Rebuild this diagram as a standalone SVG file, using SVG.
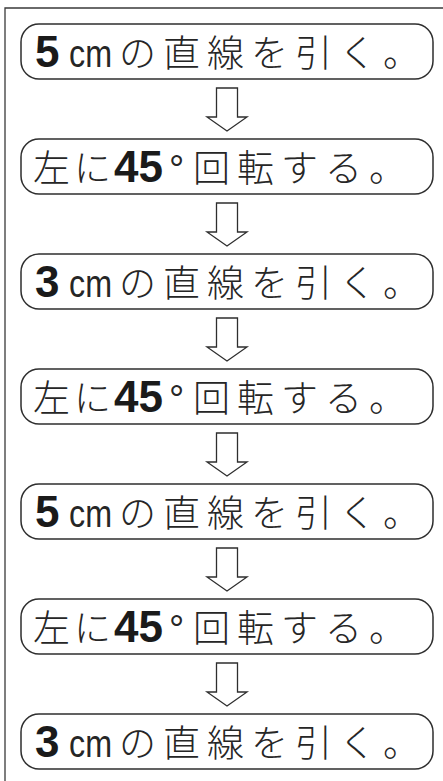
<svg xmlns="http://www.w3.org/2000/svg" width="443" height="781" viewBox="0 0 443 781">
<style>
.frame{fill:none;stroke:#3a3a3a;stroke-width:1.3}
.box{fill:#fff;stroke:#2e2e2e;stroke-width:1.5}
.arr{fill:#fff;stroke:#2e2e2e;stroke-width:1.3;stroke-linejoin:miter}
.j{font-family:"Noto Sans CJK JP","Noto Sans CJK SC",sans-serif;font-size:37px;font-weight:300;letter-spacing:7px;fill:#262626}
.j2{letter-spacing:4px}
.n{font-family:"Liberation Sans",Arial,sans-serif;font-weight:bold;font-size:44px;fill:#1a1a1a}
.l{font-family:"Liberation Sans",Arial,sans-serif;font-size:38px;fill:#262626}
</style>
<rect width="443" height="781" fill="#fff"/>
<path class="frame" d="M5,781 V8 H443"/>
<g id="connectors">
<path class="arr" d="M216.5,88 H237.5 V117 H247 L227,131 L207,117 H216.5 Z"/>
<path class="arr" d="M216.5,203 H237.5 V232 H247 L227,246 L207,232 H216.5 Z"/>
<path class="arr" d="M216.5,318 H237.5 V347 H247 L227,361 L207,347 H216.5 Z"/>
<path class="arr" d="M216.5,433 H237.5 V462 H247 L227,476 L207,462 H216.5 Z"/>
<path class="arr" d="M216.5,548 H237.5 V577 H247 L227,591 L207,577 H216.5 Z"/>
<path class="arr" d="M216.5,663 H237.5 V692 H247 L227,706 L207,692 H216.5 Z"/>
</g>
<g id="n1" transform="translate(0,24)">
<rect class="box" x="21" y="0" width="412" height="55" rx="18"/>
<text class="n" x="35" y="43">5</text>
<text class="l" x="69" y="43" textLength="43" lengthAdjust="spacingAndGlyphs">cm</text>
<text class="j" x="119" y="43">の直線を引く。</text>
</g>
<g id="n2" transform="translate(0,139)">
<rect class="box" x="21" y="0" width="412" height="55" rx="18"/>
<text class="j j2" x="33" y="43">左に</text>
<text class="n" x="114" y="43">45</text>
<text class="l" x="169" y="43">°</text>
<text class="j" x="193" y="43">回転する。</text>
</g>
<g id="n3" transform="translate(0,254)">
<rect class="box" x="21" y="0" width="412" height="55" rx="18"/>
<text class="n" x="35" y="43">3</text>
<text class="l" x="69" y="43" textLength="43" lengthAdjust="spacingAndGlyphs">cm</text>
<text class="j" x="119" y="43">の直線を引く。</text>
</g>
<g id="n4" transform="translate(0,369)">
<rect class="box" x="21" y="0" width="412" height="55" rx="18"/>
<text class="j j2" x="33" y="43">左に</text>
<text class="n" x="114" y="43">45</text>
<text class="l" x="169" y="43">°</text>
<text class="j" x="193" y="43">回転する。</text>
</g>
<g id="n5" transform="translate(0,484)">
<rect class="box" x="21" y="0" width="412" height="55" rx="18"/>
<text class="n" x="35" y="43">5</text>
<text class="l" x="69" y="43" textLength="43" lengthAdjust="spacingAndGlyphs">cm</text>
<text class="j" x="119" y="43">の直線を引く。</text>
</g>
<g id="n6" transform="translate(0,599)">
<rect class="box" x="21" y="0" width="412" height="55" rx="18"/>
<text class="j j2" x="33" y="43">左に</text>
<text class="n" x="114" y="43">45</text>
<text class="l" x="169" y="43">°</text>
<text class="j" x="193" y="43">回転する。</text>
</g>
<g id="n7" transform="translate(0,714)">
<rect class="box" x="21" y="0" width="412" height="55" rx="18"/>
<text class="n" x="35" y="43">3</text>
<text class="l" x="69" y="43" textLength="43" lengthAdjust="spacingAndGlyphs">cm</text>
<text class="j" x="119" y="43">の直線を引く。</text>
</g>
</svg>
